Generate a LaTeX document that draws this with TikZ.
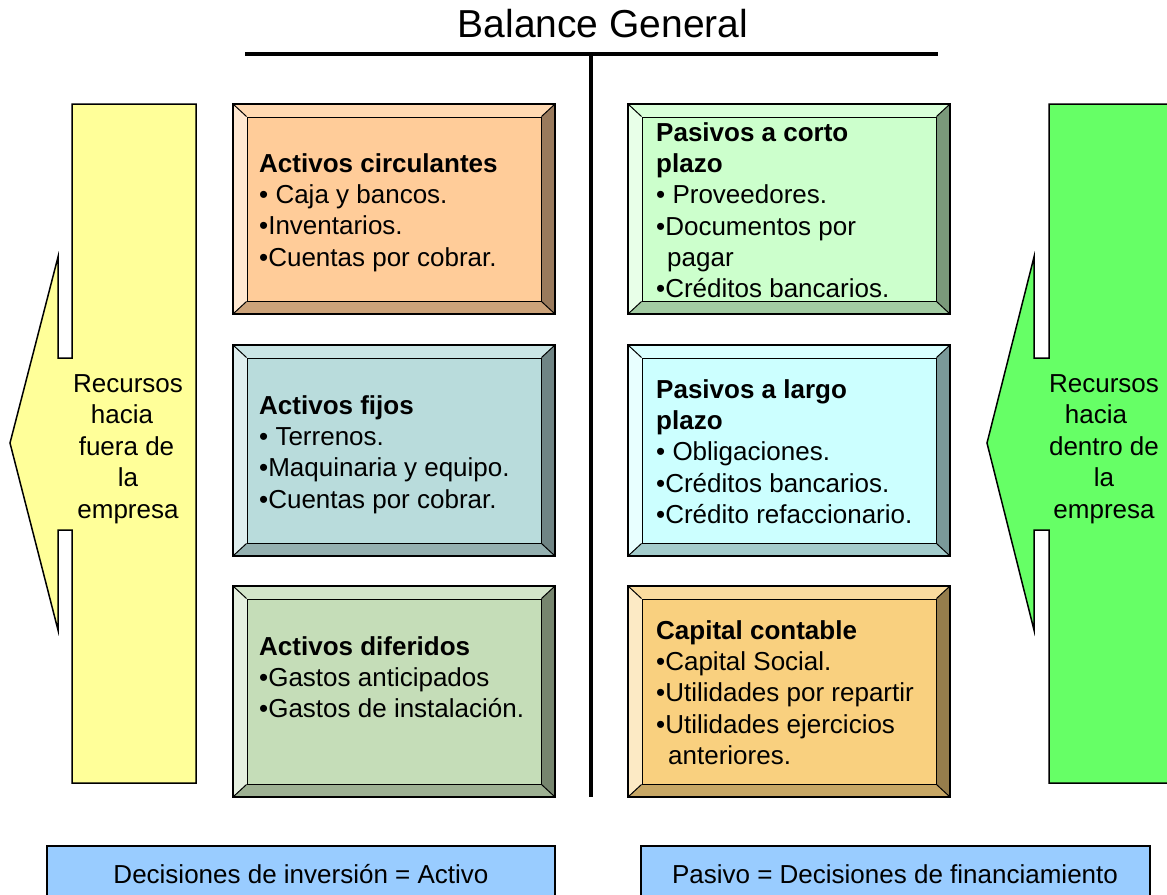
\documentclass[tikz,border=0pt]{standalone}
\usepackage{fontspec}
\setmainfont{Liberation Sans}
\usetikzlibrary{calc}
\definecolor{cPeach}{HTML}{FFCC99}
\definecolor{cTeal}{HTML}{B9DCDC}
\definecolor{cSage}{HTML}{C5DDB8}
\definecolor{cMint}{HTML}{CCFFCC}
\definecolor{cCyan}{HTML}{CCFFFF}
\definecolor{cGold}{HTML}{F9D07F}
\definecolor{cYellow}{HTML}{FFFF99}
\definecolor{cGreen}{HTML}{66FF66}
\definecolor{cBlue}{HTML}{99CCFF}
\tikzset{
  outline/.style={draw=black, line width=1.5pt},
  thinline/.style={draw=black, line width=1pt},
  facebox/.style={draw=black, line width=1pt, inner sep=0pt, rectangle},
  boxtext/.style={anchor=north west, inner sep=0pt, align=left,
    font=\fontsize{26}{31.3}\selectfont},
  arrowtext/.style={anchor=north, inner sep=0pt, align=center,
    font=\fontsize{26}{31.5}\selectfont},
  bartext/.style={inner sep=0pt, anchor=base, font=\fontsize{26}{31}\selectfont},
  mainline/.style={draw=black, line width=4.8pt},
}
% name, x1, y1, x2, y2, colour
\newcommand\bevbox[6]{%
  \fill[#6!45!white] (#2,#3) -- (#2+14,#3+13) -- (#2+14,#5-13) -- (#2,#5) -- cycle;
  \fill[#6!75!white] (#2,#3) -- (#4,#3) -- (#4-14,#3+13) -- (#2+14,#3+13) -- cycle;
  \fill[#6!60!black] (#4,#3) -- (#4,#5) -- (#4-14,#5-13) -- (#4-14,#3+13) -- cycle;
  \fill[#6!80!black] (#2,#5) -- (#4,#5) -- (#4-14,#5-13) -- (#2+14,#5-13) -- cycle;
  \node[facebox, fill=#6, minimum width={#4-#2-28}, minimum height={#5-#3-26}]
    (#1) at ({(#2+#4)/2},{(#3+#5)/2}) {};
  \draw[thinline] (#2,#3) -- (#1.north west) (#4,#3) -- (#1.north east)
    (#4,#5) -- (#1.south east) (#2,#5) -- (#1.south west);
  \draw[outline] (#2,#3) rectangle (#4,#5);
}
\begin{document}
\begin{tikzpicture}[x=1pt, y=-1pt]
\useasboundingbox (0,0) rectangle (1167,894);
\clip (0,0) rectangle (1167,894);

% title and T lines
\node[inner sep=0pt, anchor=base, font=\fontsize{39}{46}\selectfont] (title) at (603,37) {Balance General};
\coordinate (hl) at (245,54);
\coordinate (hr) at (938,54);
\coordinate (vt) at (591,54);
\coordinate (vb) at (591,797);
\draw[mainline] (hl) -- (hr);
\draw[mainline] (vt) -- (vb);

% left arrow (outward)
\draw[outline, fill=cYellow] (72,104) -- (196,104) -- (196,783) -- (72,783) -- (72,530)
  -- (58,530) -- (58,630) -- (10,443) -- (58,257) -- (58,358) -- (72,358) -- cycle;
\node[arrowtext] (la) at (128,372) {\rule{0pt}{20pt}Recursos\\hacia\kern12pt\\fuera de\kern3pt\\la\\empresa};

% right arrow (inward)
\draw[outline, fill=cGreen] (1049,104) -- (1180,104) -- (1180,783) -- (1049,783) -- (1049,530)
  -- (1034,530) -- (1034,630) -- (987,443) -- (1034,257) -- (1034,358) -- (1049,358) -- cycle;
\node[arrowtext] (ra) at (1104,372) {\rule{0pt}{20pt}Recursos\\hacia\kern16pt\\dentro de\\la\\empresa};

% bevelled boxes
\bevbox{b1}{233}{104}{555}{314}{cPeach}
\bevbox{b2}{233}{345}{555}{556}{cTeal}
\bevbox{b3}{233}{586}{555}{797}{cSage}
\bevbox{b4}{628}{104}{950}{314}{cMint}
\bevbox{b5}{628}{345}{950}{556}{cCyan}
\bevbox{b6}{628}{586}{950}{797}{cGold}

\node[boxtext] (t1) at (259,152) {\rule{0pt}{20pt}\textbf{Activos circulantes}\\• Caja y bancos.\\•Inventarios.\\•Cuentas por cobrar.};
\node[boxtext] (t2) at (259,394) {\rule{0pt}{20pt}\textbf{Activos fijos}\\• Terrenos.\\•Maquinaria y equipo.\\•Cuentas por cobrar.};
\node[boxtext] (t3) at (259,635) {\rule{0pt}{20pt}\textbf{Activos diferidos}\\•Gastos anticipados\\•Gastos de instalación.};
\node[boxtext] (t4) at (656,121) {\rule{0pt}{20pt}\textbf{Pasivos a corto}\\\textbf{plazo}\\• Proveedores.\\•Documentos por\\\hspace*{11pt}pagar\\•Créditos bancarios.};
\node[boxtext] (t5) at (656,378) {\rule{0pt}{20pt}\textbf{Pasivos a largo}\\\textbf{plazo}\\• Obligaciones.\\•Créditos bancarios.\\•Crédito refaccionario.};
\node[boxtext] (t6) at (656,619) {\rule{0pt}{20pt}\textbf{Capital contable}\\•Capital Social.\\•Utilidades por repartir\\•Utilidades ejercicios\\\hspace*{12pt}anteriores.};

% bottom bars
\draw[outline, fill=cBlue] (47,846) rectangle (555,910);
\draw[outline, fill=cBlue] (641,846) rectangle (1150,910);
\node[bartext] (dl) at (301,883) {Decisiones de inversión = Activo};
\node[bartext] (dr) at (895,883) {Pasivo = Decisiones de financiamiento};
\end{tikzpicture}
\end{document}
